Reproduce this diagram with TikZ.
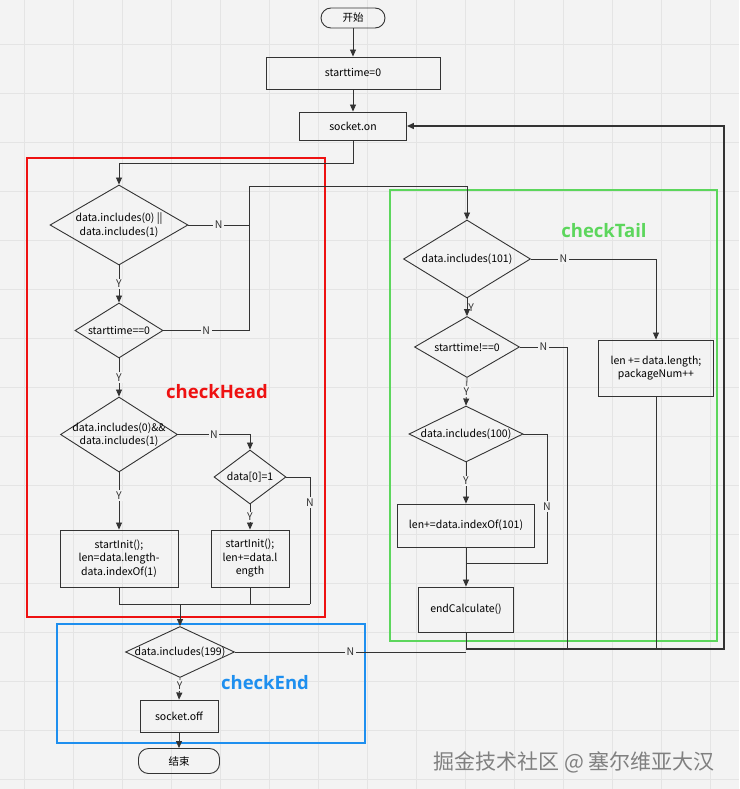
\documentclass[tikz,border=0pt]{standalone}
\usepackage{fontspec}
\setmainfont{Noto Sans CJK SC}
\newfontfamily\titlefont{Open Sans}
\usepackage{xcolor}
\usetikzlibrary{shapes.geometric}
\usetikzlibrary{arrows.meta}
\definecolor{bgc}{HTML}{F3F3F3}
\definecolor{gridc}{HTML}{E4E4E4}
\definecolor{linec}{HTML}{333333}
\definecolor{headred}{HTML}{EE1111}
\definecolor{tailgreen}{HTML}{5CD65C}
\definecolor{endblue}{HTML}{1E8FEF}
\tikzstyle{procbox} = [draw=linec, line width=0.9pt, rectangle, align=center,
inner sep=2pt, font=\fontsize{10.5}{13.5}\selectfont]
\tikzstyle{termbox} = [procbox, rounded corners=10pt]
\tikzstyle{decision} = [draw=linec, line width=0.9pt, diamond, inner sep=0pt]
\tikzstyle{dtext} = [align=center, inner sep=0pt, font=\fontsize{10.5}{13.5}\selectfont]
\tikzstyle{flow} = [draw=linec, line width=0.8pt]
\tikzstyle{arrowline} = [flow, -{Triangle[length=7pt,width=6pt]}]
\tikzstyle{yn} = [fill=bgc, inner sep=1.5pt, font=\fontsize{10.5}{12}\selectfont, text=linec]
\tikzstyle{groupbox} = [line width=1.6pt]
\tikzstyle{grouptitle} = [font=\titlefont\bfseries\fontsize{18.5}{22}\selectfont]

\begin{document}
\begin{tikzpicture}[x=1pt, y=-1pt]
        \useasboundingbox (0,0) rectangle (739,789);
        \fill[bgc] (0,0) rectangle (739,789);
        \foreach \gx in {24,73,...,739} \draw[gridc] (\gx,0) -- (\gx,789);
        \foreach \gy in {44,93,...,789} \draw[gridc] (0,\gy) -- (739,\gy);

        \draw[groupbox, headred] (27,158) rectangle (325,617);
        \draw[groupbox, tailgreen] (390,190) rectangle (717,641);
        \draw[groupbox, endblue] (57,624) rectangle (365,743);

        \node[termbox, minimum width=64pt, minimum height=20pt] (start) at (353,18) {开始};
        \node[procbox, minimum width=174pt, minimum height=32pt] (st0) at (353,73) {starttime=0};
        \node[procbox, minimum width=107pt, minimum height=28pt] (sockon) at (353,126) {socket.on};

        \node[decision, minimum width=138pt, minimum height=80pt] (d1) at (119,225) {};
        \node[dtext] (d1t) at (d1) {data.includes(0) ||\\data.includes(1)};
        \node[decision, minimum width=88pt, minimum height=55pt] (d2) at (119,330.5) {};
        \node[dtext] (d2t) at (d2) {starttime==0};
        \node[decision, minimum width=117pt, minimum height=75pt] (d3) at (119,434.5) {};
        \node[dtext] (d3t) at (d3) {data.includes(0)\&\&\\data.includes(1)};
        \node[decision, minimum width=72pt, minimum height=54pt] (d4) at (250,477) {};
        \node[dtext] (d4t) at (d4) {data[0]=1};
        \node[procbox, minimum width=118pt, minimum height=57pt] (b1) at (119,558.5)
            {startInit();\\len=data.length-\\data.indexOf(1)};
        \node[procbox, minimum width=78pt, minimum height=57pt] (b2) at (250,558.5)
            {startInit();\\len+=data.l\\ength};

        \node[decision, minimum width=109pt, minimum height=51pt] (d5) at (180,652) {};
        \node[dtext] (d5t) at (d5) {data.includes(199)};
        \node[procbox, minimum width=78pt, minimum height=32pt] (soff) at (179,716) {socket.off};
        \node[termbox, minimum width=81pt, minimum height=25pt] (stop) at (179,761) {结束};

        \node[decision, minimum width=127pt, minimum height=78pt] (d6) at (467,259) {};
        \node[dtext] (d6t) at (d6) {data.includes(101)};
        \node[decision, minimum width=105pt, minimum height=61pt] (d7) at (467,347) {};
        \node[dtext] (d7t) at (d7) {starttime!==0};
        \node[decision, minimum width=114pt, minimum height=56pt] (d8) at (466,434) {};
        \node[dtext] (d8t) at (d8) {data.includes(100)};
        \node[procbox, minimum width=137pt, minimum height=43pt] (b3) at (466,525.5) {len+=data.indexOf(101)};
        \node[procbox, minimum width=95pt, minimum height=45pt] (endc) at (466,609.5) {endCalculate()};
        \node[procbox, minimum width=115pt, minimum height=56pt] (tailbox) at (656,368)
            {len += data.length;\\packageNum++};

        \node[grouptitle, text=headred] (headlbl) at (217,392) {checkHead};
        \node[grouptitle, text=tailgreen] (taillbl) at (604,231) {checkTail};
        \node[grouptitle, text=endblue] (endlbl) at (265,683) {checkEnd};
        \node[text=gray, font=\fontsize{21}{24}\selectfont] (mark) at (574,762) {掘金技术社区 @ 塞尔维亚大汉};

        \coordinate (j1) at (119,163);
        \coordinate (j2) at (249,186);
        \coordinate (j3) at (310,604);
        \coordinate (j4) at (180,604);
        \coordinate (j6) at (724,126);
        \coordinate (j7) at (466,649);
        \coordinate (j8) at (567,649);
        \coordinate (j9) at (547,563);
        \coordinate (j10) at (466,563);

        \draw[arrowline] (start) -- (st0);
        \draw[arrowline] (st0) -- (sockon);
        \draw[arrowline] (sockon.south) |- (j1) -- (d1.north);

        \draw[arrowline] (d1.south) -- node[yn]{Y} (d2.north);
        \draw[flow] (d1.east) -- node[yn]{N} (d1.east -| j2);
        \draw[arrowline] (d2.east) -| node[yn, pos=0.25]{N} (j2) -| (d6.north);
        \draw[arrowline] (d2.south) -- node[yn]{Y} (d3.north);
        \draw[arrowline] (d3.south) -- node[yn, pos=0.4]{Y} (b1.north);
        \draw[arrowline] (d3.east) -| node[yn, pos=0.25]{N} (d4.north);
        \draw[arrowline] (d4.south) -- node[yn]{Y} (b2.north);
        \draw[flow] (d4.east) -| node[yn, pos=0.6]{N} (j3);
        \draw[flow] (b1.south) |- (j3);
        \draw[flow] (b2.south) -- (b2.south |- j3);
        \draw[arrowline] (j4) -- (d5.north);

        \draw[arrowline] (d5.south) -- node[yn, pos=0.35]{Y} (soff.north);
        \draw[arrowline] (soff) -- (stop);
        \draw[flow] (d5.east) -- node[yn]{N} (d5.east -| j7);
        \draw[arrowline, line width=1.5pt] (j7) -| (j6) -- (sockon.east);

        \draw[arrowline] (d6.east) -| node[yn, pos=0.13]{N} (tailbox.north);
        \draw[flow] (tailbox.south) -- (tailbox.south |- j7);
        \draw[arrowline] (d6.south) -- node[yn, fill=none, right, inner sep=1pt]{Y} (d7.north);
        \draw[flow] (d7.east) -| node[yn, pos=0.25]{N} (j8);
        \draw[arrowline] (d7.south) -- node[yn]{Y} (d8.north);
        \draw[arrowline] (d8.south) -- node[yn, pos=0.45]{Y} (b3.north);
        \draw[flow] (d8.east) -| node[yn, pos=0.78]{N} (j9) -- (j10);
        \draw[arrowline] (b3) -- (endc);
        \draw[flow] (endc.south) -- (j7);
    \end{tikzpicture}
\end{document}
